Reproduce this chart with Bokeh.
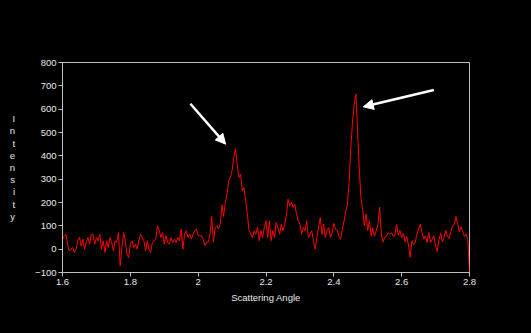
from bokeh.plotting import figure
from bokeh.models import ColumnDataSource, FixedTicker, Arrow, NormalHead
from bokeh.embed import file_html
from bokeh.resources import INLINE

# ---------------- data ----------------
angle_start = 1.6
angle_step = 0.005
intensity = [
    # 1.600 - 2.000
    43, 55, 64, 21, -7, 0, 7, -14, 0, 36,
    50, 14, 43, 0, 29, 50, 21, 64, 64, 21,
    50, 36, 64, 0, 36, -14, 36, 7, 50, 29,
    -7, 36, 29, 71, -71, 7, 71, 36, -21, -36,
    21, 36, 7, 21, 0, 36, 64, 50, 36, -7,
    36, 0, -14, 29, 36, 43, 100, 80, 50, 71,
    21, 57, 29, 21, 50, 29, 43, 29, 50, 36,
    86, 0, 64, 79, 50, 64, 43, 64, 79, 86,
    57,
    # 2.005 - 2.390
    57, 57, 40, 15, 30, 30, 65, 140, 30, 93,
    100, 86, 107, 190, 140, 200, 236, 293, 307, 336,
    393, 430, 364, 307, 321, 250, 264, 207, 150, 79,
    64, 50, 79, 64, 93, 36, 79, 50, 93, 121,
    50, 121, 36, 79, 50, 114, 93, 64, 107, 79,
    107, 143, 214, 186, 200, 179, 193, 150, 121, 107,
    64, 93, 79, 121, 50, 64, 79, 36, 0, 50,
    93, 136, 64, 107, 50, 79, 93, 50,
    # 2.395 - 2.800
    71, 110, 85, 80, 55, 43, 86, 120, 160, 190,
    290, 430, 545, 620, 665, 510, 343, 220, 170, 100,
    150, 80, 120, 57, 90, 55, 80, 105, 180, 65,
    30, 50, 55, 70, 65, 70, 55, 60, 105, 60,
    80, 48, 68, 32, 55, 18, -35, 36, 20, 28,
    65, 86, 107, 71, 43, 57, 29, 71, 29, 43,
    57, 14, -10, 40, 68, 32, 50, 80, 55, 45,
    75, 100, 105, 140, 110, 75, 95, 75, 55, 65,
    40, -100,
]
angle = [round(angle_start + i * angle_step, 3) for i in range(len(intensity))]

x_ticks = [1.6, 1.8, 2.0, 2.2, 2.4, 2.6, 2.8]
x_tick_labels = ["1.6", "1.8", "2", "2.2", "2.4", "2.6", "2.8"]
y_ticks = [-100, 0, 100, 200, 300, 400, 500, 600, 700, 800]
y_label_letters = list("Intensity")
x_label = "Scattering Angle"

# arrow annotations (tail angle, tail intensity, head angle, head intensity)
arrow_tail_x = [1.977, 2.695]
arrow_tail_y = [623, 682]
arrow_head_x = [2.081, 2.487]
arrow_head_y = [450, 610]

# ---------------- style ----------------
BG = "#000000"
FG = "#e8e8e8"
FRAME = "#c0c0c0"
FONT = "Liberation Sans"
FS = "9.5px"

p = figure(
    frame_width=407, frame_height=210,
    min_border_left=62, min_border_right=54,
    min_border_top=62, min_border_bottom=53,
    x_range=(1.6, 2.8), y_range=(-100, 800),
    output_backend="svg", toolbar_location=None,
    background_fill_color=BG, border_fill_color=BG,
)
p.outline_line_color = FRAME
p.outline_line_width = 1
p.grid.visible = False

src = ColumnDataSource(dict(x=angle, y=intensity))
p.line("x", "y", source=src, line_color="#ff0000", line_width=1)

for ax in (p.xaxis[0], p.yaxis[0]):
    ax.axis_line_color = FRAME
    ax.major_tick_line_color = FRAME
    ax.major_tick_in = 0
    ax.major_tick_out = 4
    ax.minor_tick_line_color = None
    ax.major_label_text_color = FG
    ax.major_label_text_font = FONT
    ax.major_label_text_font_size = FS
    ax.major_label_standoff = 2
    ax.axis_label_text_color = FG
    ax.axis_label_text_font = FONT
    ax.axis_label_text_font_size = FS
    ax.axis_label_text_font_style = "normal"

p.xaxis[0].ticker = FixedTicker(ticks=x_ticks)
p.xaxis[0].major_label_overrides = {t: l for t, l in zip(x_ticks, x_tick_labels)}
p.xaxis[0].axis_label = x_label
p.xaxis[0].axis_label_standoff = 4

p.yaxis[0].ticker = FixedTicker(ticks=y_ticks)
p.yaxis[0].axis_label = "\n".join(y_label_letters)
p.yaxis[0].axis_label_orientation = "horizontal"
p.yaxis[0].axis_label_text_line_height = 1.11
p.yaxis[0].axis_label_text_align = "center"
p.yaxis[0].axis_label_standoff = 17

for tx, ty, hx, hy in zip(arrow_tail_x, arrow_tail_y, arrow_head_x, arrow_head_y):
    p.add_layout(Arrow(
        x_start=tx, y_start=ty, x_end=hx, y_end=hy,
        line_color="#ffffff", line_width=2.5,
        end=NormalHead(size=10, fill_color="#ffffff", line_color="#ffffff"),
    ))

html = file_html(p, INLINE)
html = html.replace("</head>", "<style>html,body{background:#000000;}</style></head>", 1)
open("out.html", "w").write(html)
